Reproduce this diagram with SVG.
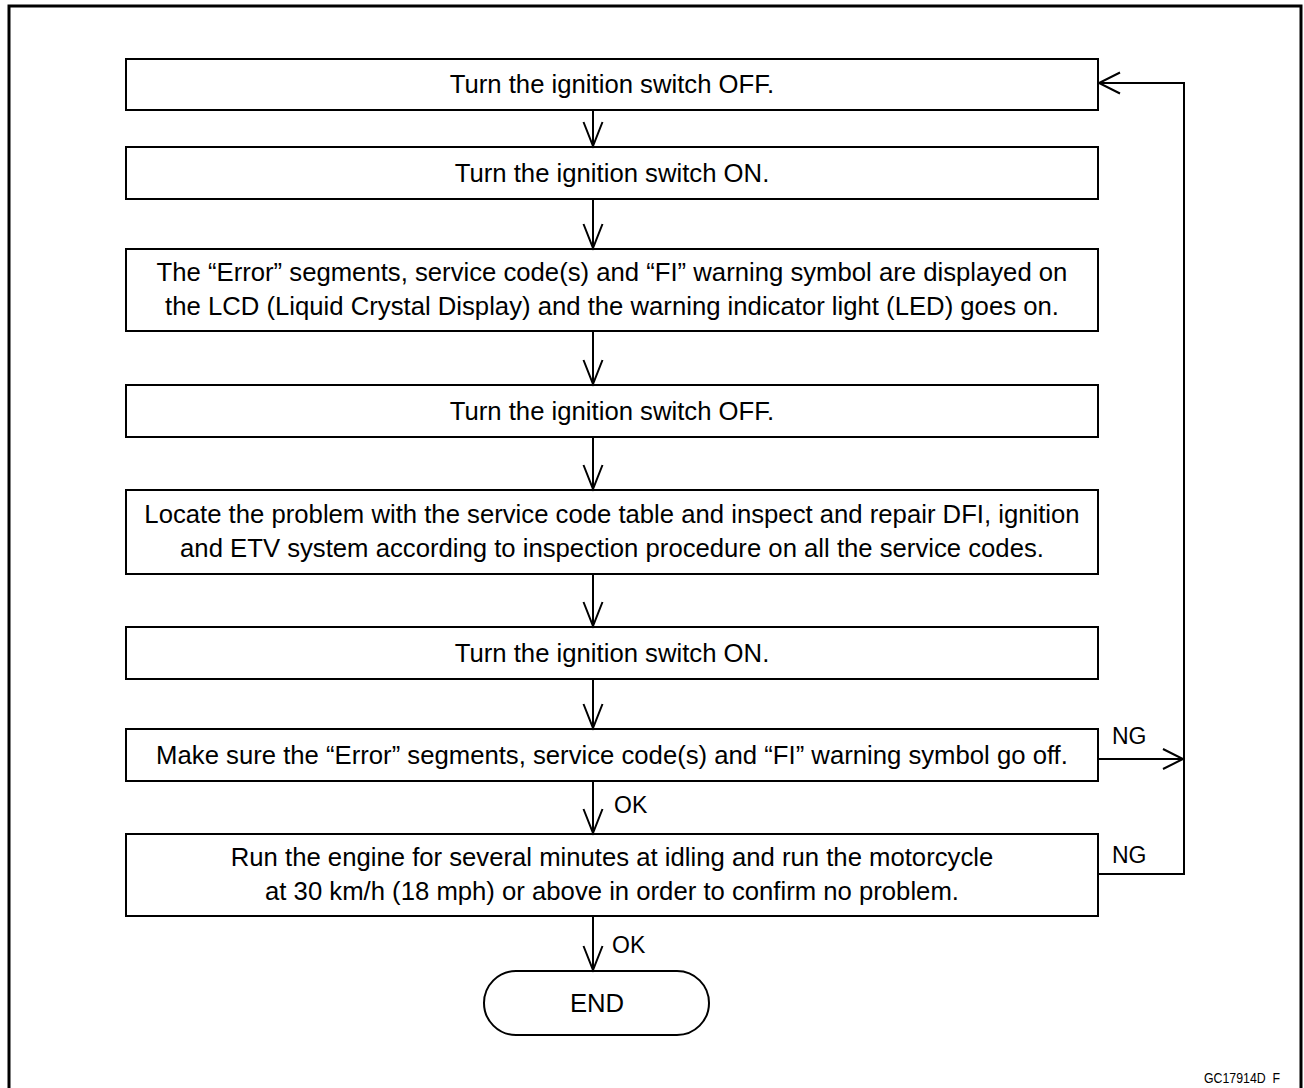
<svg xmlns="http://www.w3.org/2000/svg" width="1304" height="1088" viewBox="0 0 1304 1088">
<style>
.box{fill:#fff;stroke:#000;stroke-width:2}
.t{font-family:"Liberation Sans",Arial,sans-serif;font-size:25.7px;fill:#000;text-anchor:middle}
.lbl{font-family:"Liberation Sans",Arial,sans-serif;font-size:23px;fill:#000}
.c{fill:none;stroke:#000;stroke-width:2}
.ft{font-family:"Liberation Sans",Arial,sans-serif;font-size:15px;fill:#000}
</style>
<rect width="1304" height="1088" fill="#fff"/>
<path d="M9,1092 V6 H1301 V1092" fill="none" stroke="#000" stroke-width="3"/>
<g id="n1"><rect class="box" x="126" y="59" width="972" height="51"/><text class="t" x="612" y="93">Turn the ignition switch OFF.</text></g>
<g id="n2"><rect class="box" x="126" y="147" width="972" height="52"/><text class="t" x="612" y="182">Turn the ignition switch ON.</text></g>
<g id="n3"><rect class="box" x="126" y="249" width="972" height="82"/><text class="t" x="612" y="281">The “Error” segments, service code(s) and “FI” warning symbol are displayed on</text><text class="t" x="612" y="315">the LCD (Liquid Crystal Display) and the warning indicator light (LED) goes on.</text></g>
<g id="n4"><rect class="box" x="126" y="385" width="972" height="52"/><text class="t" x="612" y="420">Turn the ignition switch OFF.</text></g>
<g id="n5"><rect class="box" x="126" y="490" width="972" height="84"/><text class="t" x="612" y="523">Locate the problem with the service code table and inspect and repair DFI, ignition</text><text class="t" x="612" y="557">and ETV system according to inspection procedure on all the service codes.</text></g>
<g id="n6"><rect class="box" x="126" y="627" width="972" height="52"/><text class="t" x="612" y="662">Turn the ignition switch ON.</text></g>
<g id="n7"><rect class="box" x="126" y="729" width="972" height="52"/><text class="t" x="612" y="764">Make sure the “Error” segments, service code(s) and “FI” warning symbol go off.</text></g>
<g id="n8"><rect class="box" x="126" y="834" width="972" height="82"/><text class="t" x="612" y="866">Run the engine for several minutes at idling and run the motorcycle</text><text class="t" x="612" y="900">at 30 km/h (18 mph) or above in order to confirm no problem.</text></g>
<g id="end"><rect class="box" x="484" y="971" width="225" height="64" rx="32" ry="32"/><text class="t" x="597" y="1012">END</text></g>
<g id="connectors">
<path class="c" d="M593,110 V146 M583.5,122 L593,146 L602.5,122"/>
<path class="c" d="M593,199 V248 M583.5,224 L593,248 L602.5,224"/>
<path class="c" d="M593,331 V384 M583.5,360 L593,384 L602.5,360"/>
<path class="c" d="M593,437 V489 M583.5,465 L593,489 L602.5,465"/>
<path class="c" d="M593,574 V626 M583.5,602 L593,626 L602.5,602"/>
<path class="c" d="M593,679 V728 M583.5,704 L593,728 L602.5,704"/>
<path class="c" d="M593,781 V833 M583.5,809 L593,833 L602.5,809"/>
<path class="c" d="M593,916 V970 M583.5,946 L593,970 L602.5,946"/>
<path class="c" d="M1098,874 H1184 V83 H1099 M1120,72.5 L1099,83 L1120,93.5"/>
<path class="c" d="M1098,759 H1183 M1163,749 L1183,759 L1163,769"/>
<text class="lbl" x="1112" y="744">NG</text>
<text class="lbl" x="1112" y="863">NG</text>
<text class="lbl" x="614" y="813">OK</text>
<text class="lbl" x="612" y="953">OK</text>
</g>
<text class="ft" x="1204" y="1083" textLength="76" lengthAdjust="spacingAndGlyphs" xml:space="preserve">GC17914D  F</text>
</svg>
